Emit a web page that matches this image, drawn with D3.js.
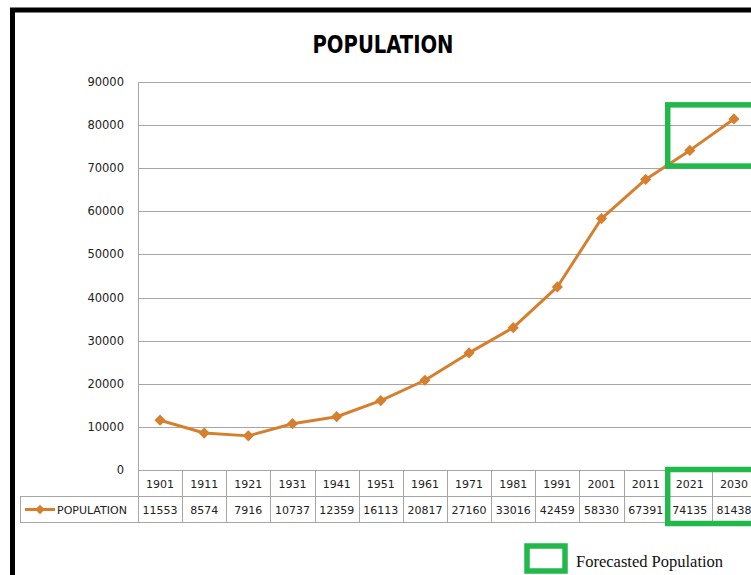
<!DOCTYPE html>
<html>
<head>
<meta charset="utf-8">
<script src="https://cdn.jsdelivr.net/npm/d3@7"></script>
<style>
  html, body { margin: 0; padding: 0; background: #fff; }
  svg { display: block; }
</style>
</head>
<body>
<div id="chart"></div>
<script>
const years = ['1901', '1911', '1921', '1931', '1941', '1951', '1961', '1971', '1981', '1991', '2001', '2011', '2021', '2030'];
const population = [11553, 8574, 7916, 10737, 12359, 16113, 20817, 27160, 33016, 42459, 58330, 67391, 74135, 81438];
const forecastYears = ['2021', '2030'];
const yTicks = [0, 10000, 20000, 30000, 40000, 50000, 60000, 70000, 80000, 90000];

const W = 751, H = 575;
const margin = { top: 82, left: 138 };
const plotW = 618;

const lineColor = '#d6802f';
const gridColor = '#a6a6a6';
const green = '#22b84b';
const numFont = '"DejaVu Sans", Verdana, sans-serif';

const svg = d3.select('#chart').append('svg')
  .attr('width', W)
  .attr('height', H);

// frame
svg.append('rect')
  .attr('x', 12.5).attr('y', 10)
  .attr('width', W).attr('height', H)
  .attr('fill', 'none').attr('stroke', '#000').attr('stroke-width', 5);

// title
svg.append('text')
  .attr('x', 383).attr('y', 53)
  .attr('text-anchor', 'middle')
  .attr('font-family', '"Liberation Sans Narrow", "DejaVu Sans Condensed", sans-serif')
  .attr('font-weight', 'bold')
  .attr('font-size', 25)
  .attr('textLength', 141)
  .attr('lengthAdjust', 'spacingAndGlyphs')
  .text('POPULATION');

const g = svg.append('g')
  .attr('transform', 'translate(' + margin.left + ',' + margin.top + ')');

const x = d3.scaleBand().domain(years).range([0, plotW]);
const y = d3.scaleLinear().domain([0, 90000]).range([388, 0]);

// Y gridlines
g.append('g')
  .selectAll('line')
  .data(yTicks.filter(d => d > 0))
  .join('line')
  .attr('x1', 0).attr('x2', plotW)
  .attr('y1', d => Math.round(y(d)) + 0.5)
  .attr('y2', d => Math.round(y(d)) + 0.5)
  .attr('stroke', gridColor);

// Y labels
g.append('g')
  .selectAll('text')
  .data(yTicks)
  .join('text')
  .attr('x', -14)
  .attr('y', d => y(d))
  .attr('dy', '0.35em')
  .attr('text-anchor', 'end')
  .attr('font-family', numFont)
  .attr('font-size', 11.5)
  .attr('fill', '#222')
  .text(d => d);

// axis line
g.append('line')
  .attr('x1', 0.5).attr('x2', 0.5)
  .attr('y1', 0).attr('y2', y(0))
  .attr('stroke', gridColor);

// data table
const rowH = 26;
const y0 = Math.round(y(0)) + 0.5;
const tbl = g.append('g').attr('transform', 'translate(0,' + y0 + ')');

tbl.append('line')
  .attr('x1', 0).attr('x2', plotW)
  .attr('y1', 0).attr('y2', 0)
  .attr('stroke', gridColor);
tbl.append('line')
  .attr('x1', -118).attr('x2', plotW)
  .attr('y1', rowH).attr('y2', rowH)
  .attr('stroke', gridColor);
tbl.append('line')
  .attr('x1', -118).attr('x2', plotW)
  .attr('y1', rowH * 2).attr('y2', rowH * 2)
  .attr('stroke', gridColor);
tbl.append('line')
  .attr('x1', -117.5).attr('x2', -117.5)
  .attr('y1', rowH).attr('y2', rowH * 2)
  .attr('stroke', gridColor);

tbl.selectAll('line.sep')
  .data(years)
  .join('line')
  .attr('class', 'sep')
  .attr('x1', d => Math.round(x(d)) + 0.5)
  .attr('x2', d => Math.round(x(d)) + 0.5)
  .attr('y1', 0).attr('y2', rowH * 2)
  .attr('stroke', gridColor);

tbl.selectAll('text.year')
  .data(years)
  .join('text')
  .attr('class', 'year')
  .attr('x', d => x(d) + x.bandwidth() / 2)
  .attr('y', rowH / 2)
  .attr('dy', '0.38em')
  .attr('text-anchor', 'middle')
  .attr('font-family', numFont)
  .attr('font-size', 11)
  .attr('fill', '#222')
  .text(d => d);

tbl.selectAll('text.val')
  .data(population)
  .join('text')
  .attr('class', 'val')
  .attr('x', (d, i) => x(years[i]) + x.bandwidth() / 2)
  .attr('y', rowH * 1.5)
  .attr('dy', '0.38em')
  .attr('text-anchor', 'middle')
  .attr('font-family', numFont)
  .attr('font-size', 11)
  .attr('fill', '#222')
  .text(d => d);

// legend key in table
const key = tbl.append('g').attr('transform', 'translate(-113,' + (rowH * 1.5) + ')');
key.append('line')
  .attr('x1', 0).attr('x2', 30)
  .attr('stroke', lineColor).attr('stroke-width', 3);
key.append('path')
  .attr('transform', 'translate(15,0)')
  .attr('d', d3.symbol(d3.symbolDiamond2, 60)())
  .attr('fill', lineColor);
key.append('text')
  .attr('x', 32).attr('dy', '0.38em')
  .attr('font-family', numFont)
  .attr('font-size', 11)
  .attr('fill', '#222')
  .text('POPULATION');

// line
const line = d3.line()
  .x((d, i) => x(years[i]) + x.bandwidth() / 2)
  .y(d => y(d));

g.append('path')
  .datum(population)
  .attr('d', line)
  .attr('fill', 'none')
  .attr('stroke', lineColor)
  .attr('stroke-width', 3)
  .attr('stroke-linejoin', 'round');

g.selectAll('path.marker')
  .data(population)
  .join('path')
  .attr('class', 'marker')
  .attr('transform', (d, i) => 'translate(' + (x(years[i]) + x.bandwidth() / 2) + ',' + y(d) + ')')
  .attr('d', d3.symbol(d3.symbolDiamond2, 80)())
  .attr('fill', lineColor);

// forecast boxes
const fx = x(forecastYears[0]);
g.append('rect')
  .attr('x', fx).attr('y', y(84700))
  .attr('width', 200).attr('height', y(70500) - y(84700))
  .attr('fill', 'none').attr('stroke', green).attr('stroke-width', 5.5);
g.append('rect')
  .attr('x', fx).attr('y', y0 - 1)
  .attr('width', 200).attr('height', rowH * 2 + 2)
  .attr('fill', 'none').attr('stroke', green).attr('stroke-width', 5.5);

// forecast legend
svg.append('rect')
  .attr('x', 527).attr('y', 546)
  .attr('width', 38).attr('height', 25)
  .attr('fill', 'none').attr('stroke', green).attr('stroke-width', 5.5);
svg.append('text')
  .attr('x', 576).attr('y', 567)
  .attr('font-family', '"Liberation Serif", "Times New Roman", serif')
  .attr('font-size', 16.5)
  .attr('fill', '#111')
  .text('Forecasted Population');
</script>
</body>
</html>
